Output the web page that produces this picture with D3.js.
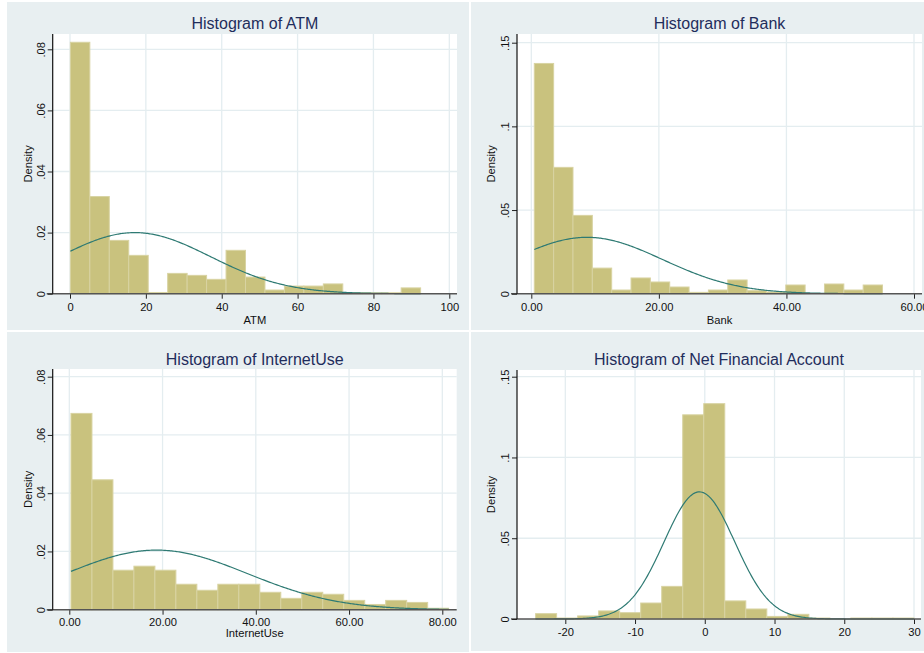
<!DOCTYPE html>
<html><head><meta charset="utf-8">
<script src="https://cdn.jsdelivr.net/npm/d3@7"></script>
<style>
body{margin:0;background:#fff}
svg{display:block}
text{font-family:"Liberation Sans",Arial,sans-serif}
</style></head>
<body><svg id="c" width="924" height="653"></svg>
<script>
// ---------------- DATA ----------------
const titles = ["Histogram of ATM","Histogram of Bank","Histogram of InternetUse","Histogram of Net Financial Account"];
const xTitles = ["ATM","Bank","InternetUse",""];

// histogram bin starts / widths (value units)
const binStarts = [0.1, 0.47, 0.36, -24.26];
const binWidths = [5.13, 3.033, 4.5, 3.014];

// bar densities
const atmDensity  = [0.0823,0.0318,0.01745,0.01255,0.0004,0.00665,0.006,0.0047,0.0142,0.00545,0.0012,0.0025,0.0025,0.0032,0.0003,0.0003,0.0003,0.0019];
const bankDensity = [0.1376,0.0755,0.0468,0.0153,0.0022,0.0094,0.0070,0.0040,0.0008,0.0022,0.0082,0.0018,0.0010,0.0052,0,0.0058,0.0022,0.0052];
const internetDensity = [0.0674,0.0446,0.01356,0.01494,0.01356,0.00874,0.00667,0.00874,0.00874,0.00598,0.0039,0.00598,0.0053,0.0032,0.0018,0.0032,0.0025,0.0005];
const nfaDensity  = [0.0033,0.0006,0.0019,0.0050,0.0039,0.0099,0.0202,0.1264,0.1333,0.0112,0.0062,0.0016,0.0029,0.0006,0,0.0006,0.0006,0.0006];

// fitted normal overlay parameters (mean, sd)
const normalMeans = [17.1, 8.73, 18.7, -0.77];
const normalSDs   = [19.95, 11.84, 19.5, 5.07];

// axis ticks
const xTickValues = [[0,20,40,60,80,100],[0,20,40,60],[0,20,40,60,80],[-20,-10,0,10,20,30]];
const xTickLabels = [["0","20","40","60","80","100"],["0.00","20.00","40.00","60.00"],["0.00","20.00","40.00","60.00","80.00"],["-20","-10","0","10","20","30"]];
const yTickValues = [[0,0.02,0.04,0.06,0.08],[0,0.05,0.1,0.15],[0,0.02,0.04,0.06,0.08],[0,0.05,0.1,0.15]];
const yTickLabels = [["0",".02",".04",".06",".08"],["0",".05",".1",".15"],["0",".02",".04",".06",".08"],["0",".05",".1",".15"]];

const densities = [atmDensity, bankDensity, internetDensity, nfaDensity];

// ---------------- LAYOUT ----------------
const layout = [
  {bg:[7,2,462,328], l:52.7, r:457, t:34, b:293.7, xr:[70,449.3], yTop:49.3, titleY:29.3, tickY:311.5, xTitleY:323.5, yLabX:44.5, densX:31.5},
  {bg:[471,2,460,328], l:517, r:922, t:34, b:293.7, xr:[531.3,914], yTop:42.7, titleY:29.3, tickY:311.5, xTitleY:323.5, yLabX:508.5, densX:495.3},
  {bg:[7,332,462,320], l:52.7, r:456.7, t:369, b:609.7, xr:[69.3,442.3], yTop:376.7, titleY:365, tickY:626, xTitleY:637, yLabX:44.5, densX:31.5},
  {bg:[471,332,460,319], l:517, r:921, t:370, b:619, xr:[565.3,914], yTop:376.7, titleY:365, tickY:635.5, xTitleY:0, yLabX:508.5, densX:495.3}
];

const svg = d3.select("#c");
const BG = "#e8eff1", GRID = "#e4edf0", BAR = "#c9c27e", BAR_STROKE = "#d8d3a2", LINE = "#2e7a73", TITLE = "#1f2d5c";

layout.forEach((L,i)=>{
  const g = svg.append("g");
  g.append("rect").attr("x",L.bg[0]).attr("y",L.bg[1]).attr("width",L.bg[2]).attr("height",L.bg[3]).attr("fill",BG);
  g.append("rect").attr("x",L.l).attr("y",L.t).attr("width",L.r-L.l).attr("height",L.b-L.t).attr("fill","#fff");

  const xt = xTickValues[i], yt = yTickValues[i];
  const x = d3.scaleLinear().domain([xt[0], xt[xt.length-1]]).range(L.xr);
  const y = d3.scaleLinear().domain([0, yt[yt.length-1]]).range([L.b, L.yTop]);

  // grid
  g.selectAll(".gx").data(xt).enter().append("line")
    .attr("x1",d=>x(d)).attr("x2",d=>x(d)).attr("y1",L.t).attr("y2",L.b)
    .attr("stroke",GRID).attr("stroke-width",1.3);
  g.selectAll(".gy").data(yt.slice(1)).enter().append("line")
    .attr("x1",L.l).attr("x2",L.r).attr("y1",d=>y(d)).attr("y2",d=>y(d))
    .attr("stroke",GRID).attr("stroke-width",1.3);

  // bars
  const bins = densities[i].map((v,k)=>({x0:binStarts[i]+k*binWidths[i], x1:binStarts[i]+(k+1)*binWidths[i], v}));
  g.selectAll(".bar").data(bins.filter(d=>d.v>0)).enter().append("rect")
    .attr("x",d=>x(d.x0)).attr("width",d=>x(d.x1)-x(d.x0))
    .attr("y",d=>y(d.v)).attr("height",d=>y(0)-y(d.v))
    .attr("fill",BAR).attr("stroke",BAR_STROKE).attr("stroke-width",1);

  // normal curve
  const lo = binStarts[i], hi = binStarts[i]+densities[i].length*binWidths[i];
  const mu = normalMeans[i], sd = normalSDs[i];
  const pts = d3.range(0,301).map(k=>{const v=lo+(hi-lo)*k/300; return [v, Math.exp(-0.5*((v-mu)/sd)**2)/(sd*Math.sqrt(2*Math.PI))];});
  g.append("path").attr("d", d3.line().x(d=>x(d[0])).y(d=>y(d[1]))(pts))
    .attr("fill","none").attr("stroke",LINE).attr("stroke-width",1.2);

  // axes
  const xa = d3.axisBottom(x).tickValues(xt).tickFormat((d,k)=>xTickLabels[i][k]).tickSize(5).tickSizeOuter(0);
  const xg = g.append("g").attr("transform",`translate(0,${L.b})`).call(xa);
  xg.select(".domain").remove();
  xg.selectAll(".tick line").attr("stroke","#222");
  xg.selectAll(".tick text").attr("y", L.tickY - L.b).attr("dy",0).attr("fill","#111")
    .style("font-size","11.2px").style("font-family","Liberation Sans, Arial, sans-serif");
  g.append("line").attr("x1",L.l-6).attr("x2",L.r).attr("y1",L.b).attr("y2",L.b).attr("stroke","#555").attr("stroke-width",1.6);

  const ya = d3.axisLeft(y).tickValues(yt).tickFormat((d,k)=>yTickLabels[i][k]).tickSize(5).tickSizeOuter(0);
  const yg = g.append("g").attr("transform",`translate(${L.l},0)`).call(ya);
  yg.select(".domain").remove();
  yg.selectAll(".tick line").attr("stroke","#222");
  yg.selectAll(".tick text").attr("x",0).attr("dy",0).attr("text-anchor","middle")
    .attr("transform",`translate(${L.yLabX - L.l},0) rotate(-90)`).attr("fill","#111")
    .style("font-size","11.2px").style("font-family","Liberation Sans, Arial, sans-serif");
  g.append("line").attr("x1",L.l).attr("x2",L.l).attr("y1",L.t).attr("y2",L.b).attr("stroke","#111").attr("stroke-width",1.2);

  // titles
  g.append("text").attr("x",(L.l+L.r)/2).attr("y",L.titleY).attr("text-anchor","middle")
    .attr("fill",TITLE).style("font-size","16px").text(titles[i]);
  if (xTitles[i]) g.append("text").attr("x",(L.l+L.r)/2).attr("y",L.xTitleY).attr("text-anchor","middle")
    .attr("fill","#111").style("font-size","11.2px").text(xTitles[i]);
  g.append("text").attr("transform",`translate(${L.densX},${(L.t+L.b)/2}) rotate(-90)`).attr("text-anchor","middle")
    .attr("fill","#111").style("font-size","11.2px").text("Density");
});
</script></body></html>
